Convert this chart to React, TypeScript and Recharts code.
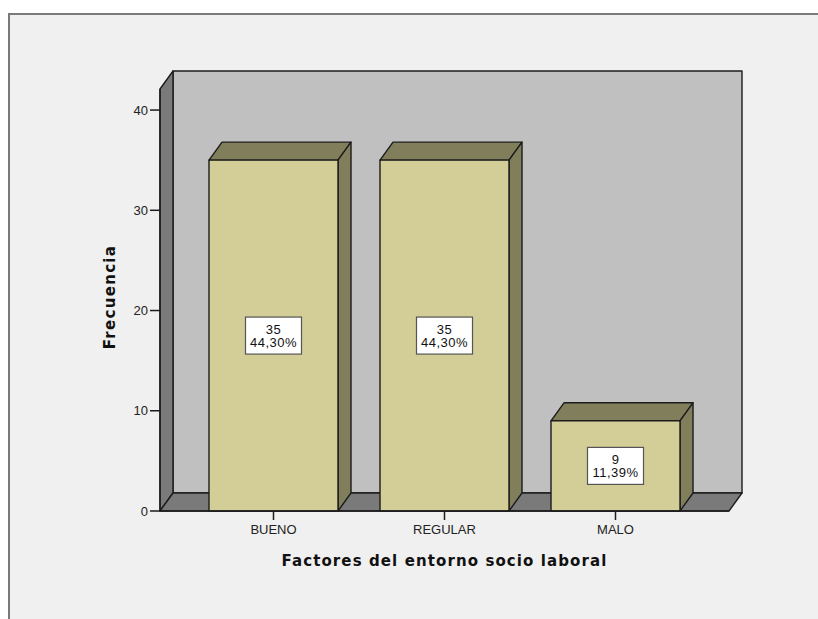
import React from "react";
import { BarChart, Bar, XAxis, YAxis, ReferenceArea, LabelList, Label } from "recharts";

const categories = ["BUENO", "REGULAR", "MALO"];
const frequencies = [35, 35, 9];
const percents = ["44,30%", "44,30%", "11,39%"];
const yTicks = [0, 10, 20, 30, 40];
const yMax = 42.1;

const rows = categories.map((name, i) => ({ name, value: frequencies[i], pct: percents[i] }));

const DX = 13;
const DY = 18;
const PAD = 28;
const EDGE = "#1c1c1c";
const FONT = "'Liberation Sans', Arial, sans-serif";
const TITLE_FONT = "'DejaVu Sans', Verdana, sans-serif";

function Walls(props: any) {
  const x = props.x - PAD;
  const width = props.width + 2 * PAD;
  const { y, height } = props;
  const b = y + height;
  const r = x + width;
  return (
    <g stroke={EDGE} strokeWidth={1.4} strokeLinejoin="round">
      <rect x={x + DX} y={y - DY} width={width} height={height} fill="#c0c0c0" />
      <polygon points={`${x},${y} ${x + DX},${y - DY} ${x + DX},${b - DY} ${x},${b}`} fill="#7a7a7a" />
      <polygon points={`${x},${b} ${x + DX},${b - DY} ${r + DX},${b - DY} ${r},${b}`} fill="#7a7a7a" />
    </g>
  );
}

function Box3D(props: any) {
  const { x, y, width, height } = props;
  const r = x + width;
  const b = y + height;
  return (
    <g stroke={EDGE} strokeWidth={1.4} strokeLinejoin="round">
      <polygon points={`${x},${y} ${x + DX},${y - DY} ${r + DX},${y - DY} ${r},${y}`} fill="#807e5b" />
      <polygon points={`${r},${y} ${r + DX},${y - DY} ${r + DX},${b - DY} ${r},${b}`} fill="#807e5b" />
      <rect x={x} y={y} width={width} height={height} fill="#d3ce97" />
    </g>
  );
}

function BoxLabel(props: any) {
  const { x, y, width, height, index } = props;
  const cx = x + width / 2;
  const cy = y + height / 2;
  const w = 56;
  const h = 37;
  return (
    <g>
      <rect x={cx - w / 2} y={cy - h / 2} width={w} height={h} fill="#ffffff" stroke="#555555" strokeWidth={1.2} />
      <text x={cx} y={cy - 2} textAnchor="middle" fontSize={13} letterSpacing={0.5} fontFamily={FONT} fill="#111">
        {frequencies[index]}
      </text>
      <text x={cx} y={cy + 11} textAnchor="middle" fontSize={13} letterSpacing={0.5} fontFamily={FONT} fill="#111">
        {percents[index]}
      </text>
    </g>
  );
}

export default function App() {
  return (
    <div style={{ position: "absolute", left: 0, top: 0, width: 818, height: 619, background: "#ffffff", overflow: "hidden" }}>
      <div
        style={{
          position: "absolute",
          left: 8,
          top: 13,
          width: 810,
          height: 606,
          boxSizing: "border-box",
          background: "#f0f0f0",
          borderTop: "2px solid #7a7a7a",
          borderLeft: "2px solid #7a7a7a",
        }}
      />
      <div style={{ position: "absolute", left: 0, top: 0 }}>
        <BarChart width={818} height={619} data={rows} margin={{ top: 89, right: 89, bottom: 0, left: 0 }} barSize={129}>
          <ReferenceArea y1={0} y2={yMax} shape={<Walls />} ifOverflow="visible" />
          <XAxis
            dataKey="name"
            padding={{ left: PAD, right: PAD }}
            tickSize={9}
            tickMargin={5}
            tick={{ fontSize: 13, fontFamily: FONT, fill: "#222" }}
            tickLine={{ stroke: EDGE, strokeWidth: 1.5 }}
            axisLine={{ stroke: EDGE, strokeWidth: 1.4 }}
            height={108}
          >
            <Label
              value="Factores del entorno socio laboral"
              position="insideTop"
              offset={44}
              style={{ fontSize: 15, fontWeight: 700, fontFamily: TITLE_FONT, fill: "#111", letterSpacing: 1.1 }}
            />
          </XAxis>
          <YAxis
            domain={[0, yMax]}
            ticks={yTicks}
            width={160}
            tickSize={10}
            tickMargin={2}
            tick={{ fontSize: 13, fontFamily: FONT, fill: "#222" }}
            tickLine={{ stroke: EDGE, strokeWidth: 1.5 }}
            axisLine={{ stroke: EDGE, strokeWidth: 1.4 }}
          >
            <Label
              value="Frecuencia"
              angle={-90}
              position="center"
              dx={30}
              dy={-3}
              style={{ fontSize: 15, fontWeight: 700, fontFamily: TITLE_FONT, fill: "#111", letterSpacing: 1.3 }}
            />
          </YAxis>
          <Bar dataKey="value" shape={<Box3D />} isAnimationActive={false}>
            <LabelList dataKey="value" content={<BoxLabel />} />
          </Bar>
        </BarChart>
      </div>
    </div>
  );
}
